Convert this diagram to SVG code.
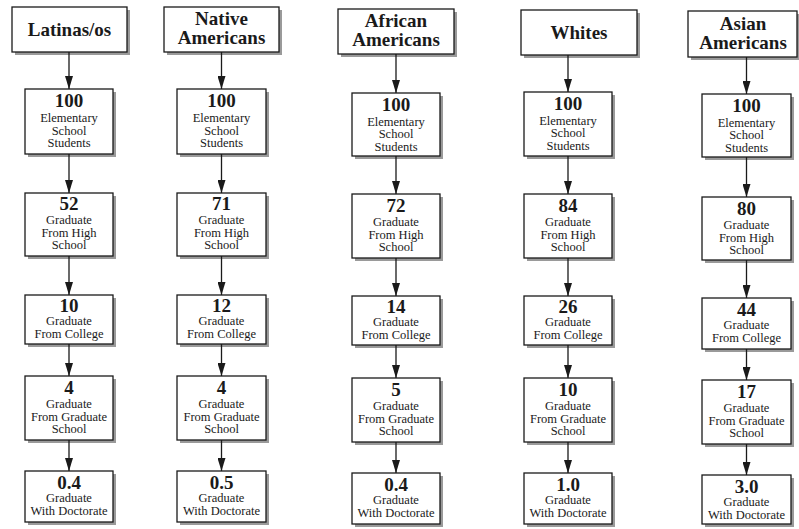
<svg xmlns="http://www.w3.org/2000/svg" width="799" height="529" viewBox="0 0 799 529">
<style>
.sh{fill:#9a9a9a}
.bx{fill:#fff;stroke:#1a1a1a;stroke-width:1.3}
.hd{font-family:"Liberation Serif","Times New Roman",serif;font-weight:bold;font-size:19px;fill:#1a1a1a;text-anchor:middle}
.nm{font-family:"Liberation Serif","Times New Roman",serif;font-weight:bold;font-size:19px;fill:#1a1a1a;text-anchor:middle}
.lb{font-family:"Liberation Serif","Times New Roman",serif;font-size:12.5px;fill:#1a1a1a;text-anchor:middle}
.ar{stroke:#1a1a1a;stroke-width:1.3;fill:none;marker-end:url(#ah)}
</style>
<defs>
<marker id="ah" viewBox="0 0 13 8" refX="13" refY="4" markerWidth="13" markerHeight="8" markerUnits="userSpaceOnUse" orient="auto">
<path d="M0,0 L13,4 L0,8 z" fill="#1a1a1a"/>
</marker>
</defs>

<!-- Column 1: Latinas/os -->
<g id="latinas-header"><rect class="sh" x="15" y="10" width="115" height="45"/><rect class="bx" x="12" y="7" width="115" height="45"/><text class="hd" x="69.5" y="36">Latinas/os</text></g>
<g id="latinas-elem"><rect class="sh" x="28" y="92" width="88" height="65"/><rect class="bx" x="25" y="89" width="88" height="65"/><text class="nm" x="69" y="107">100</text><text class="lb" x="69" y="122">Elementary</text><text class="lb" x="69" y="134.5">School</text><text class="lb" x="69" y="147">Students</text></g>
<g id="latinas-hs"><rect class="sh" x="28" y="196" width="88" height="63"/><rect class="bx" x="25" y="193" width="88" height="63"/><text class="nm" x="69" y="210">52</text><text class="lb" x="69" y="224">Graduate</text><text class="lb" x="69" y="236.5">From High</text><text class="lb" x="69" y="249">School</text></g>
<g id="latinas-col"><rect class="sh" x="28" y="298" width="88" height="49"/><rect class="bx" x="25" y="295" width="88" height="49"/><text class="nm" x="69" y="312">10</text><text class="lb" x="69" y="325">Graduate</text><text class="lb" x="69" y="337.5">From College</text></g>
<g id="latinas-grad"><rect class="sh" x="28" y="379" width="88" height="64"/><rect class="bx" x="25" y="376" width="88" height="64"/><text class="nm" x="69" y="394">4</text><text class="lb" x="69" y="408">Graduate</text><text class="lb" x="69" y="420.5">From Graduate</text><text class="lb" x="69" y="433">School</text></g>
<g id="latinas-doc"><rect class="sh" x="28" y="474" width="88" height="51"/><rect class="bx" x="25" y="471" width="88" height="51"/><text class="nm" x="69" y="489">0.4</text><text class="lb" x="69" y="502">Graduate</text><text class="lb" x="69" y="514.5">With Doctorate</text></g>

<!-- Column 2: Native Americans -->
<g id="native-header"><rect class="sh" x="167" y="10" width="115" height="45"/><rect class="bx" x="164" y="7" width="115" height="45"/><text class="hd" x="221.5" y="25">Native</text><text class="hd" x="221.5" y="44">Americans</text></g>
<g id="native-elem"><rect class="sh" x="180" y="92" width="89" height="65"/><rect class="bx" x="177" y="89" width="89" height="65"/><text class="nm" x="221.5" y="107">100</text><text class="lb" x="221.5" y="122">Elementary</text><text class="lb" x="221.5" y="134.5">School</text><text class="lb" x="221.5" y="147">Students</text></g>
<g id="native-hs"><rect class="sh" x="180" y="196" width="89" height="63"/><rect class="bx" x="177" y="193" width="89" height="63"/><text class="nm" x="221.5" y="210">71</text><text class="lb" x="221.5" y="224">Graduate</text><text class="lb" x="221.5" y="236.5">From High</text><text class="lb" x="221.5" y="249">School</text></g>
<g id="native-col"><rect class="sh" x="180" y="298" width="89" height="49"/><rect class="bx" x="177" y="295" width="89" height="49"/><text class="nm" x="221.5" y="312">12</text><text class="lb" x="221.5" y="325">Graduate</text><text class="lb" x="221.5" y="337.5">From College</text></g>
<g id="native-grad"><rect class="sh" x="180" y="379" width="89" height="64"/><rect class="bx" x="177" y="376" width="89" height="64"/><text class="nm" x="221.5" y="394">4</text><text class="lb" x="221.5" y="408">Graduate</text><text class="lb" x="221.5" y="420.5">From Graduate</text><text class="lb" x="221.5" y="433">School</text></g>
<g id="native-doc"><rect class="sh" x="180" y="474" width="89" height="51"/><rect class="bx" x="177" y="471" width="89" height="51"/><text class="nm" x="221.5" y="489">0.5</text><text class="lb" x="221.5" y="502">Graduate</text><text class="lb" x="221.5" y="514.5">With Doctorate</text></g>

<!-- Column 3: African Americans -->
<g id="african-header"><rect class="sh" x="341" y="12" width="116" height="45"/><rect class="bx" x="338" y="9" width="116" height="45"/><text class="hd" x="396" y="27">African</text><text class="hd" x="396" y="46">Americans</text></g>
<g id="african-elem"><rect class="sh" x="355" y="96" width="88" height="63"/><rect class="bx" x="352" y="93" width="88" height="63"/><text class="nm" x="396" y="111">100</text><text class="lb" x="396" y="125.5">Elementary</text><text class="lb" x="396" y="138">School</text><text class="lb" x="396" y="150.5">Students</text></g>
<g id="african-hs"><rect class="sh" x="355" y="197" width="88" height="64"/><rect class="bx" x="352" y="194" width="88" height="64"/><text class="nm" x="396" y="212">72</text><text class="lb" x="396" y="226">Graduate</text><text class="lb" x="396" y="238.5">From High</text><text class="lb" x="396" y="251">School</text></g>
<g id="african-col"><rect class="sh" x="355" y="299" width="88" height="49"/><rect class="bx" x="352" y="296" width="88" height="49"/><text class="nm" x="396" y="313">14</text><text class="lb" x="396" y="326">Graduate</text><text class="lb" x="396" y="338.5">From College</text></g>
<g id="african-grad"><rect class="sh" x="355" y="381" width="88" height="64"/><rect class="bx" x="352" y="378" width="88" height="64"/><text class="nm" x="396" y="396">5</text><text class="lb" x="396" y="410">Graduate</text><text class="lb" x="396" y="422.5">From Graduate</text><text class="lb" x="396" y="435">School</text></g>
<g id="african-doc"><rect class="sh" x="355" y="476" width="88" height="51"/><rect class="bx" x="352" y="473" width="88" height="51"/><text class="nm" x="396" y="491">0.4</text><text class="lb" x="396" y="504">Graduate</text><text class="lb" x="396" y="516.5">With Doctorate</text></g>

<!-- Column 4: Whites -->
<g id="whites-header"><rect class="sh" x="524" y="13" width="116" height="45"/><rect class="bx" x="521" y="10" width="116" height="45"/><text class="hd" x="579" y="39">Whites</text></g>
<g id="whites-elem"><rect class="sh" x="527" y="95" width="88" height="64"/><rect class="bx" x="524" y="92" width="88" height="64"/><text class="nm" x="568" y="110">100</text><text class="lb" x="568" y="124.5">Elementary</text><text class="lb" x="568" y="137">School</text><text class="lb" x="568" y="149.5">Students</text></g>
<g id="whites-hs"><rect class="sh" x="527" y="197" width="88" height="64"/><rect class="bx" x="524" y="194" width="88" height="64"/><text class="nm" x="568" y="212">84</text><text class="lb" x="568" y="226">Graduate</text><text class="lb" x="568" y="238.5">From High</text><text class="lb" x="568" y="251">School</text></g>
<g id="whites-col"><rect class="sh" x="527" y="299" width="88" height="49"/><rect class="bx" x="524" y="296" width="88" height="49"/><text class="nm" x="568" y="313">26</text><text class="lb" x="568" y="326">Graduate</text><text class="lb" x="568" y="338.5">From College</text></g>
<g id="whites-grad"><rect class="sh" x="527" y="381" width="88" height="64"/><rect class="bx" x="524" y="378" width="88" height="64"/><text class="nm" x="568" y="396">10</text><text class="lb" x="568" y="410">Graduate</text><text class="lb" x="568" y="422.5">From Graduate</text><text class="lb" x="568" y="435">School</text></g>
<g id="whites-doc"><rect class="sh" x="527" y="476" width="88" height="51"/><rect class="bx" x="524" y="473" width="88" height="51"/><text class="nm" x="568" y="491">1.0</text><text class="lb" x="568" y="504">Graduate</text><text class="lb" x="568" y="516.5">With Doctorate</text></g>

<!-- Column 5: Asian Americans -->
<g id="asian-header"><rect class="sh" x="691" y="14" width="109" height="46"/><rect class="bx" x="688" y="11" width="109" height="46"/><text class="hd" x="743" y="30">Asian</text><text class="hd" x="743" y="49">Americans</text></g>
<g id="asian-elem"><rect class="sh" x="705" y="97" width="89" height="63"/><rect class="bx" x="702" y="94" width="89" height="63"/><text class="nm" x="746.5" y="112">100</text><text class="lb" x="746.5" y="126.5">Elementary</text><text class="lb" x="746.5" y="139">School</text><text class="lb" x="746.5" y="151.5">Students</text></g>
<g id="asian-hs"><rect class="sh" x="705" y="200" width="89" height="63"/><rect class="bx" x="702" y="197" width="89" height="63"/><text class="nm" x="746.5" y="215">80</text><text class="lb" x="746.5" y="229">Graduate</text><text class="lb" x="746.5" y="241.5">From High</text><text class="lb" x="746.5" y="254">School</text></g>
<g id="asian-col"><rect class="sh" x="705" y="301" width="89" height="51"/><rect class="bx" x="702" y="298" width="89" height="51"/><text class="nm" x="746.5" y="316">44</text><text class="lb" x="746.5" y="329">Graduate</text><text class="lb" x="746.5" y="341.5">From College</text></g>
<g id="asian-grad"><rect class="sh" x="705" y="383" width="89" height="64"/><rect class="bx" x="702" y="380" width="89" height="64"/><text class="nm" x="746.5" y="398">17</text><text class="lb" x="746.5" y="412">Graduate</text><text class="lb" x="746.5" y="424.5">From Graduate</text><text class="lb" x="746.5" y="437">School</text></g>
<g id="asian-doc"><rect class="sh" x="705" y="478" width="89" height="49"/><rect class="bx" x="702" y="475" width="89" height="49"/><text class="nm" x="746.5" y="493">3.0</text><text class="lb" x="746.5" y="506">Graduate</text><text class="lb" x="746.5" y="518.5">With Doctorate</text></g>

<g id="connectors">
<line class="ar" x1="69" y1="52" x2="69" y2="89"/>
<line class="ar" x1="69" y1="154" x2="69" y2="193"/>
<line class="ar" x1="69" y1="256" x2="69" y2="295"/>
<line class="ar" x1="69" y1="344" x2="69" y2="376"/>
<line class="ar" x1="69" y1="440" x2="69" y2="471"/>
<line class="ar" x1="221.5" y1="52" x2="221.5" y2="89"/>
<line class="ar" x1="221.5" y1="154" x2="221.5" y2="193"/>
<line class="ar" x1="221.5" y1="256" x2="221.5" y2="295"/>
<line class="ar" x1="221.5" y1="344" x2="221.5" y2="376"/>
<line class="ar" x1="221.5" y1="440" x2="221.5" y2="471"/>
<line class="ar" x1="396" y1="54" x2="396" y2="93"/>
<line class="ar" x1="396" y1="156" x2="396" y2="194"/>
<line class="ar" x1="396" y1="258" x2="396" y2="296"/>
<line class="ar" x1="396" y1="345" x2="396" y2="378"/>
<line class="ar" x1="396" y1="442" x2="396" y2="473"/>
<line class="ar" x1="568" y1="55" x2="568" y2="92"/>
<line class="ar" x1="568" y1="156" x2="568" y2="194"/>
<line class="ar" x1="568" y1="258" x2="568" y2="296"/>
<line class="ar" x1="568" y1="345" x2="568" y2="378"/>
<line class="ar" x1="568" y1="442" x2="568" y2="473"/>
<line class="ar" x1="746.5" y1="57" x2="746.5" y2="94"/>
<line class="ar" x1="746.5" y1="157" x2="746.5" y2="197"/>
<line class="ar" x1="746.5" y1="260" x2="746.5" y2="298"/>
<line class="ar" x1="746.5" y1="349" x2="746.5" y2="380"/>
<line class="ar" x1="746.5" y1="444" x2="746.5" y2="475"/>
</g>
</svg>
